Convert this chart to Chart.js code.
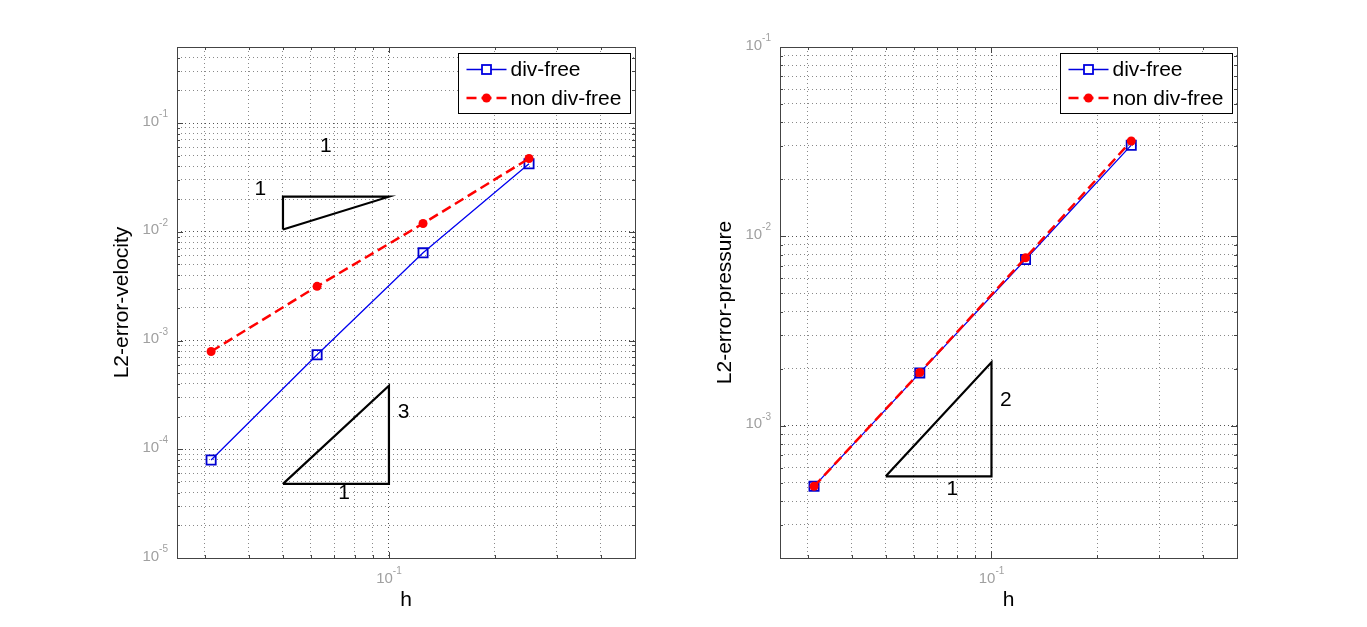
<!DOCTYPE html>
<html>
<head>
<meta charset="utf-8">
<script src="https://cdn.jsdelivr.net/npm/chart.js@4.4.0/dist/chart.umd.min.js"></script>
<style>
html, body { margin: 0; padding: 0; background: #fff; }
#wrap { position: relative; width: 1367px; height: 627px; overflow: hidden; }
.box { position: absolute; top: 0; height: 627px; }
</style>
</head>
<body>
<div id="wrap">
  <div class="box" style="left:0;width:683px"><canvas id="velChart" width="683" height="627"></canvas></div>
  <div class="box" style="left:683px;width:684px"><canvas id="presChart" width="684" height="627"></canvas></div>
</div>
<script>
// mesh sizes
const hValues = [0.03125, 0.0625, 0.125, 0.25]

// velocity errors
const velDivFree = [7.97e-5, 7.4e-4, 6.4e-3, 0.0422]
const velNonDivFree = [7.92e-4, 3.15e-3, 0.0119, 0.0472]

// pressure errors
const presDivFree = [4.78e-4, 1.9e-3, 7.55e-3, 0.0303]
const presNonDivFree = [4.78e-4, 1.91e-3, 7.7e-3, 0.0319]

// slope triangles
const velSlope1X = [0.05, 0.1, 0.05, 0.05]
const velSlope1Y = [0.0105, 0.021, 0.021, 0.0105]
const velSlope3X = [0.05, 0.1, 0.1, 0.05]
const velSlope3Y = [4.8e-5, 4.8e-5, 3.84e-4, 4.8e-5]
const presSlope2X = [0.05, 0.1, 0.1, 0.05]
const presSlope2Y = [5.4e-4, 5.4e-4, 2.16e-3, 5.4e-4]

// slope labels (text, anchor in data coords)
const velSlopeText = ["1", "1", "3", "1"]
const velSlopeTextX = [0.0431, 0.0662, 0.110, 0.0746]
const velSlopeTextY = [0.0246, 0.0607, 2.17e-4, 3.93e-5]
const presSlopeText = ["2", "1"]
const presSlopeTextX = [0.1098, 0.0774]
const presSlopeTextY = [1.36e-3, 4.59e-4]

// axis ranges
const xRange = [0.025, 0.5]
const velYRange = [1e-5, 0.5]
const presYRange = [2e-4, 0.1]

// labelled ticks (powers of ten)
const xTickExps = [-1]
const velYTickExps = [-5, -4, -3, -2, -1]
const presYTickExps = [-3, -2, -1]

const legendLabels = ["div-free", "non div-free"]

const FONT = "'Liberation Sans', Arial, sans-serif"

function toPoints(xs, ys) {
    return xs.map((x, i) => ({ x: x, y: ys[i] }))
}

// 1..9 x 10^n inside the range, for the grid
function gridValues(min, max) {
    const out = []
    for (let n = Math.floor(Math.log10(min)); n <= Math.ceil(Math.log10(max)); n++) {
        for (let k = 1; k < 10; k++) {
            const v = Number((k * Math.pow(10, n)).toPrecision(6))
            if (v >= min * 0.9999 && v <= max * 1.0001) out.push(v)
        }
    }
    return out
}

function isDecade(v) {
    if (!v) return false
    const l = Math.log10(v)
    return Math.abs(l - Math.round(l)) < 1e-6
}

function logAxis(range, horizontal) {
    return {
        type: "logarithmic",
        min: range[0],
        max: range[1],
        afterBuildTicks: (s) => {
            s.ticks = gridValues(range[0], range[1]).map((v) => ({ value: v }))
        },
        afterFit: (s) => {
            if (horizontal) s.height = 0
            else s.width = 0
        },
        ticks: { display: false },
        grid: {
            drawTicks: false,
            lineWidth: 1,
            color: (ctx) => (ctx.tick && isDecade(ctx.tick.value) ? "rgba(40,40,40,0.8)" : "rgba(40,40,40,0.55)"),
        },
        border: { display: false, dash: [1, 3] },
    }
}

function seriesSets(divFree, nonDivFree, triangles) {
    const sets = [
        {
            label: legendLabels[0],
            data: toPoints(hValues, divFree),
            borderColor: "#0000f0",
            borderWidth: 1.3,
            pointStyle: "rect",
            pointRadius: 6.5,
            pointBorderWidth: 1.8,
            pointBorderColor: "#0000d0",
            pointBackgroundColor: "rgba(0,0,0,0)",
            order: 2,
        },
        {
            label: legendLabels[1],
            data: toPoints(hValues, nonDivFree),
            borderColor: "#ff0000",
            borderWidth: 2.5,
            borderDash: [10, 5],
            pointStyle: "circle",
            pointRadius: 4.5,
            pointBorderWidth: 0,
            pointBackgroundColor: "#ff0000",
            order: 1,
        },
    ]
    triangles.forEach((t) => {
        sets.push({
            label: "",
            data: t,
            borderColor: "#000",
            borderWidth: 2.2,
            pointRadius: 0,
            order: 3,
        })
    })
    return sets
}

function drawPow10(ctx, e, x, y, align) {
    const base = "10"
    const sup = String(e)
    ctx.font = "15px " + FONT
    const wb = ctx.measureText(base).width
    ctx.font = "10px " + FONT
    const ws = ctx.measureText(sup).width
    const total = wb + ws
    let left = x - total / 2
    if (align === "right") left = x - total
    ctx.textAlign = "left"
    ctx.textBaseline = "alphabetic"
    ctx.font = "15px " + FONT
    ctx.fillText(base, left, y)
    ctx.font = "10px " + FONT
    ctx.fillText(sup, left + wb, y - 8.5)
}

const decorPlugin = {
    id: "decor",
    afterDraw(chart) {
        const cfg = chart.options.plugins.decor
        const { ctx, chartArea: a } = chart
        const xs = chart.scales.x
        const ys = chart.scales.y
        ctx.save()

        // box
        ctx.strokeStyle = "#444"
        ctx.lineWidth = 1
        ctx.strokeRect(a.left + 0.5, a.top + 0.5, a.right - a.left, a.bottom - a.top)

        // inside ticks on all sides
        ctx.beginPath()
        xs.ticks.forEach((t) => {
            const px = Math.round(xs.getPixelForValue(t.value)) + 0.5
            const len = isDecade(t.value) ? 6 : 3
            ctx.moveTo(px, a.bottom); ctx.lineTo(px, a.bottom - len)
            ctx.moveTo(px, a.top); ctx.lineTo(px, a.top + len)
        })
        ys.ticks.forEach((t) => {
            const py = Math.round(ys.getPixelForValue(t.value)) + 0.5
            const len = isDecade(t.value) ? 6 : 3
            ctx.moveTo(a.left, py); ctx.lineTo(a.left + len, py)
            ctx.moveTo(a.right, py); ctx.lineTo(a.right - len, py)
        })
        ctx.stroke()

        // tick labels
        ctx.fillStyle = "#a0a0a0"
        xTickExps.forEach((e) => {
            drawPow10(ctx, e, xs.getPixelForValue(Math.pow(10, e)), a.bottom + 24.5, "center")
        })
        cfg.yTickExps.forEach((e) => {
            drawPow10(ctx, e, a.left - 9, ys.getPixelForValue(Math.pow(10, e)) + 2.5, "right")
        })

        // axis titles
        ctx.fillStyle = "#000"
        ctx.font = "21px " + FONT
        ctx.textAlign = "center"
        ctx.textBaseline = "alphabetic"
        ctx.fillText("h", (a.left + a.right) / 2, a.bottom + 48)
        ctx.save()
        ctx.translate(a.left - 49, (a.top + a.bottom) / 2)
        ctx.rotate(-Math.PI / 2)
        ctx.fillText(cfg.yLabel, 0, 0)
        ctx.restore()

        // slope labels
        ctx.textBaseline = "middle"
        cfg.slopeText.forEach((s, i) => {
            ctx.fillText(s, xs.getPixelForValue(cfg.slopeX[i]), ys.getPixelForValue(cfg.slopeY[i]))
        })

        // legend
        const bw = 172, bh = 60
        const bx = Math.round(a.right - 5 - bw) + 0.5
        const by = Math.round(a.top + 6) + 0.5
        ctx.fillStyle = "#fff"
        ctx.fillRect(bx, by, bw, bh)
        ctx.strokeStyle = "#000"
        ctx.lineWidth = 1
        ctx.strokeRect(bx, by, bw, bh)
        const rows = [by + 16, by + 44.5]
        const l0 = bx + 8, l1 = bx + 48, mx = (l0 + l1) / 2
        // div-free
        ctx.strokeStyle = "#0000e0"
        ctx.lineWidth = 1.3
        ctx.beginPath(); ctx.moveTo(l0, rows[0]); ctx.lineTo(l1, rows[0]); ctx.stroke()
        ctx.lineWidth = 1.8
        ctx.fillStyle = "#fff"
        ctx.fillRect(mx - 4.5, rows[0] - 4.5, 9, 9)
        ctx.strokeRect(mx - 4.5, rows[0] - 4.5, 9, 9)
        // non div-free
        ctx.strokeStyle = "#ff0000"
        ctx.lineWidth = 2.5
        ctx.setLineDash([10, 5])
        ctx.beginPath(); ctx.moveTo(l0, rows[1]); ctx.lineTo(l1, rows[1]); ctx.stroke()
        ctx.setLineDash([])
        ctx.fillStyle = "#ff0000"
        ctx.beginPath(); ctx.arc(mx, rows[1], 4.5, 0, Math.PI * 2); ctx.fill()
        ctx.fillStyle = "#000"
        ctx.font = "21px " + FONT
        ctx.textAlign = "left"
        ctx.textBaseline = "middle"
        ctx.fillText(legendLabels[0], l1 + 4, rows[0] + 1)
        ctx.fillText(legendLabels[1], l1 + 4, rows[1] + 1)

        ctx.restore()
    },
}

function makeChart(id, padding, yRange, datasets, decor) {
    return new Chart(document.getElementById(id), {
        type: "line",
        data: { datasets: datasets },
        options: {
            responsive: false,
            animation: false,
            devicePixelRatio: 1,
            layout: { padding: padding },
            elements: { line: { tension: 0 } },
            scales: {
                x: logAxis(xRange, true),
                y: logAxis(yRange, false),
            },
            plugins: {
                legend: { display: false },
                tooltip: { enabled: false },
                decor: decor,
            },
        },
        plugins: [decorPlugin],
    })
}

makeChart(
    "velChart",
    { left: 177, top: 47, right: 48, bottom: 69 },
    velYRange,
    seriesSets(velDivFree, velNonDivFree, [toPoints(velSlope1X, velSlope1Y), toPoints(velSlope3X, velSlope3Y)]),
    { yLabel: "L2-error-velocity", yTickExps: velYTickExps, slopeText: velSlopeText, slopeX: velSlopeTextX, slopeY: velSlopeTextY }
)

makeChart(
    "presChart",
    { left: 97, top: 47, right: 130, bottom: 69 },
    presYRange,
    seriesSets(presDivFree, presNonDivFree, [toPoints(presSlope2X, presSlope2Y)]),
    { yLabel: "L2-error-pressure", yTickExps: presYTickExps, slopeText: presSlopeText, slopeX: presSlopeTextX, slopeY: presSlopeTextY }
)
</script>
</body>
</html>
